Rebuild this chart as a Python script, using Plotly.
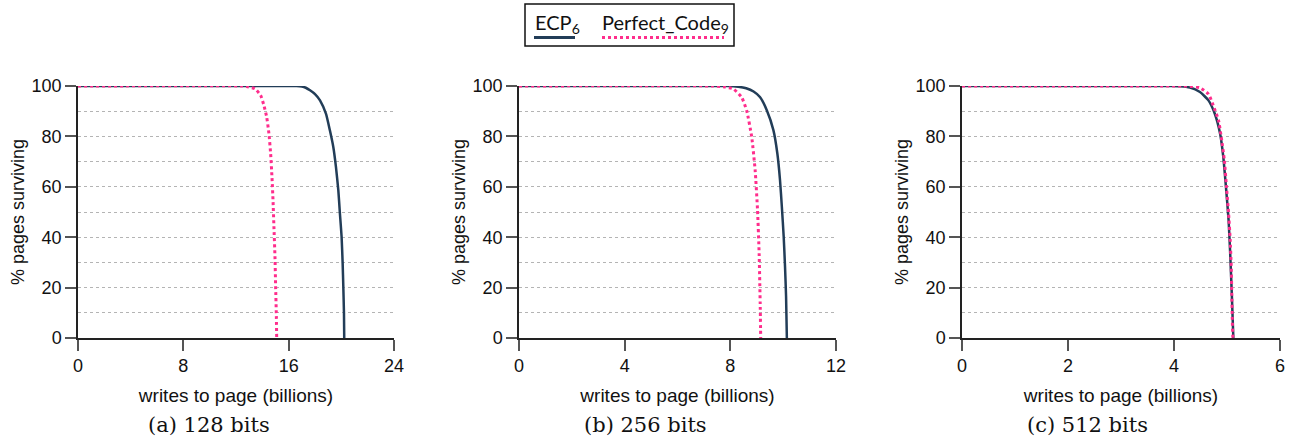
import plotly.graph_objects as go

# ---- data ----
panel_captions = ["(a) 128 bits", "(b) 256 bits", "(c) 512 bits"]
x_max = [24, 12, 6]
x_ticks = [[0, 8, 16, 24], [0, 4, 8, 12], [0, 2, 4, 6]]
y_ticks = [0, 20, 40, 60, 80, 100]
legend_labels = ["ECP<sub>6</sub>", "Perfect_Code<sub>9</sub>"]

ecp_a_x = [0, 16.6, 17.0, 17.3, 17.62, 18.0, 18.38, 18.83, 19.13, 19.39, 19.59, 19.77, 19.89, 20.02, 20.1, 20.15, 20.2, 20.22]
ecp_a_y = [100, 100, 99.8, 99.3, 98.3, 96.8, 94.3, 89, 82.4, 75.8, 67.9, 58.7, 49.5, 40.2, 29.7, 20.4, 9.9, 0]
pc_a_x = [0, 12.5, 12.81, 13.44, 13.87, 14.12, 14.33, 14.5, 14.63, 14.73, 14.81, 14.88, 14.96, 15.01, 15.06, 15.09]
pc_a_y = [100, 100, 99.8, 98.9, 96.3, 92.3, 87.7, 81.1, 73.2, 64, 54.8, 44.2, 32.3, 20.4, 9.9, 0]

ecp_b_x = [0, 7.9, 8.3, 8.6, 8.88, 9.12, 9.38, 9.63, 9.78, 9.88, 9.95, 10.02, 10.07, 10.11, 10.14]
ecp_b_y = [100, 100, 99.7, 99.1, 97.8, 95.6, 90.4, 82.5, 73.2, 62.7, 52.1, 40.2, 28.4, 16.5, 0]
pc_b_x = [0, 7.3, 7.8, 8.12, 8.43, 8.62, 8.81, 8.94, 9.03, 9.09, 9.13, 9.15]
pc_b_y = [100, 100, 99.6, 98.8, 95.5, 90.2, 79.7, 66.5, 50.7, 33.6, 13.8, 0]

ecp_c_x = [0, 3.95, 4.11, 4.30, 4.49, 4.65, 4.77, 4.87, 4.93, 4.98, 5.03, 5.06, 5.09, 5.12]
ecp_c_y = [100, 100, 99.9, 99.4, 97.6, 94.3, 89, 81.1, 71.9, 60, 46.8, 33.6, 17.8, 0]
pc_c_x = [0, 4.15, 4.30, 4.49, 4.65, 4.74, 4.84, 4.90, 4.95, 4.99, 5.03, 5.06, 5.08, 5.09, 5.10, 5.11]
pc_c_y = [100, 100, 99.9, 99.3, 96.8, 92.3, 86.4, 78.5, 70.6, 60, 49.5, 39, 28.4, 17.8, 7.3, 0]

ecp_series = [(ecp_a_x, ecp_a_y), (ecp_b_x, ecp_b_y), (ecp_c_x, ecp_c_y)]
pc_series = [(pc_a_x, pc_a_y), (pc_b_x, pc_b_y), (pc_c_x, pc_c_y)]

# ---- style / layout ----
W, H = 1294, 438
ECP_COLOR = "#223d58"
PC_COLOR = "#ff2d8c"
FONT = "Liberation Sans, Arial, sans-serif"
LEG_FONT = "Lato, Open Sans, sans-serif"
x_domains = [(78, 394), (519, 836), (962, 1280)]
y_top_px, y_bot_px = 86, 338
caption_centers = [209, 645, 1087]

def px_x(p):
    return p / W

def px_y(p):
    return 1 - p / H

fig = go.Figure()
layout = dict(
    width=W, height=H,
    margin=dict(l=0, r=0, t=0, b=0, autoexpand=False),
    paper_bgcolor="white", plot_bgcolor="white",
    font=dict(family=FONT, size=17, color="#111"),
    showlegend=False,
)

for i in range(3):
    xa = "x" if i == 0 else f"x{i+1}"
    ya = "y" if i == 0 else f"y{i+1}"
    ex, ey = ecp_series[i]
    pxs, pys = pc_series[i]
    fig.add_trace(go.Scatter(
        x=ex, y=ey, xaxis=xa, yaxis=ya, mode="lines",
        line=dict(color=ECP_COLOR, width=2.5, shape="spline", smoothing=0.5),
        name="ECP6", cliponaxis=False,
    ))
    fig.add_trace(go.Scatter(
        x=pxs, y=pys, xaxis=xa, yaxis=ya, mode="lines",
        line=dict(color=PC_COLOR, width=3, dash="dot", shape="spline", smoothing=0.5),
        name="Perfect_Code9", cliponaxis=False,
    ))
    d0, d1 = x_domains[i]
    key_x = "xaxis" if i == 0 else f"xaxis{i+1}"
    key_y = "yaxis" if i == 0 else f"yaxis{i+1}"
    layout[key_x] = dict(
        domain=[px_x(d0), px_x(d1)], anchor=ya, range=[0, x_max[i]], automargin=False,
        tickvals=x_ticks[i], ticks="outside", ticklen=11, tickwidth=1.5, tickcolor="#555",
        showline=True, linecolor="#222", linewidth=1.5, showgrid=False, zeroline=False,
        tickfont=dict(size=18, family=FONT, color="#111"),
        title=dict(text="writes to page (billions)", font=dict(size=19, family=FONT, color="#111"), standoff=13),
    )
    layout[key_y] = dict(
        domain=[px_y(y_bot_px), px_y(y_top_px)], anchor=xa, range=[0, 100], automargin=False,
        tickvals=y_ticks, ticks="outside", ticklen=11, tickwidth=1.5, tickcolor="#555",
        showline=True, linecolor="#222", linewidth=1.5, zeroline=False,
        showgrid=True, gridcolor="#b4b4b4", gridwidth=1, griddash="dot",
        minor=dict(dtick=10, showgrid=True, gridcolor="#b4b4b4", gridwidth=1, griddash="dot", ticks=""),
        tickfont=dict(size=18, family=FONT, color="#111"),
        title=dict(text="% pages surviving", font=dict(size=18, family=FONT, color="#111"), standoff=2),
    )

annotations = []
for i in range(3):
    annotations.append(dict(
        text=panel_captions[i], xref="paper", yref="paper",
        x=px_x(caption_centers[i]), y=px_y(425), xanchor="center", yanchor="middle",
        showarrow=False, font=dict(family="DejaVu Serif, Liberation Serif, serif", size=21, color="#111"),
    ))

# custom legend (text with line sample underneath, as in the reference)
annotations.append(dict(text=legend_labels[0], xref="paper", yref="paper", x=px_x(533), y=px_y(23),
                        xanchor="left", yanchor="middle", showarrow=False,
                        font=dict(family=LEG_FONT, size=20, color="#111")))
annotations.append(dict(text=legend_labels[1], xref="paper", yref="paper", x=px_x(600), y=px_y(23),
                        xanchor="left", yanchor="middle", showarrow=False,
                        font=dict(family=LEG_FONT, size=20, color="#111")))
layout["annotations"] = annotations

layout["shapes"] = [
    dict(type="rect", xref="paper", yref="paper", x0=px_x(525), x1=px_x(734), y0=px_y(46), y1=px_y(4),
         line=dict(color="#111", width=1.5), fillcolor="rgba(0,0,0,0)"),
    dict(type="line", xref="paper", yref="paper", x0=px_x(534), x1=px_x(575), y0=px_y(37.5), y1=px_y(37.5),
         line=dict(color=ECP_COLOR, width=3)),
    dict(type="line", xref="paper", yref="paper", x0=px_x(602), x1=px_x(724), y0=px_y(37.5), y1=px_y(37.5),
         line=dict(color=PC_COLOR, width=3, dash="dot")),
]

fig.update_layout(**layout)
fig.write_html("out.html")
